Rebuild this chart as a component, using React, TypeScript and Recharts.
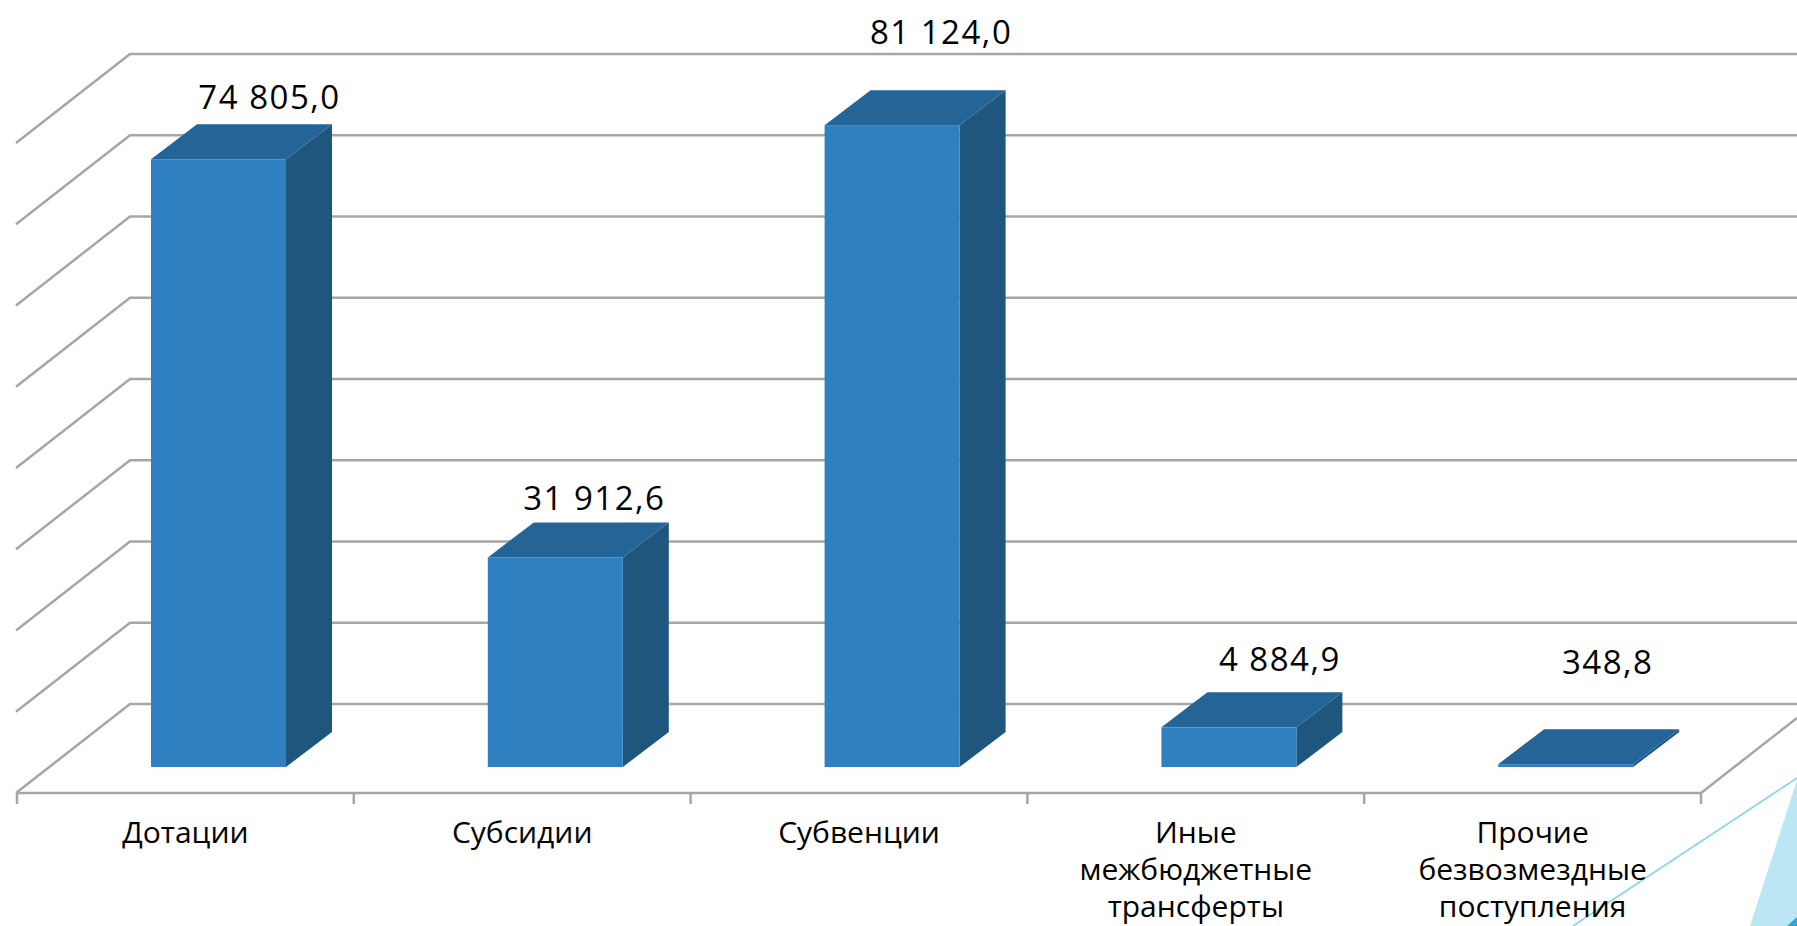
import { Bar, BarChart, LabelList, XAxis, YAxis } from "recharts"

const categories = [
  ["Дотации"],
  ["Субсидии"],
  ["Субвенции"],
  ["Иные", "межбюджетные", "трансферты"],
  ["Прочие", "безвозмездные", "поступления"],
]
// bar heights as drawn in the picture (they do not quite follow the printed labels)
const drawnValues = [74805, 25800, 79000, 4884.9, 348.8]
const valueLabels = ["74 805,0", "31 912,6", "81 124,0", "4 884,9", "348,8"]
const yTicks = [0, 10000, 20000, 30000, 40000, 50000, 60000, 70000, 80000]

const data = categories.map((lines, i) => ({
  name: lines.join(" "),
  value: drawnValues[i],
  label: valueLabels[i],
}))

// hand placed labels in the original slide
const LABEL_NUDGE = [
  [84, -62],
  [72, -59],
  [82, -93],
  [84, -68],
  [75, -102],
]

const WIDTH = 1797
const HEIGHT = 926
const DEPTH_X = 46
const DEPTH_Y = 35
const BAR_SHIFT = 33
const GRID = "#a6a6a6"
const FONT = "'Open Sans', sans-serif"
const MARGIN = { top: 117, right: 96, bottom: 0, left: 16 }
const Y_DOMAIN = [-3200, 80000]
const LAYER = { position: "absolute", left: 0, top: 0 } as const

function Bar3D({ x, y, width, height }: any) {
  const left = x + BAR_SHIFT
  const right = left + width
  const bottom = y + height
  return (
    <g>
      <polygon
        points={`${right},${y} ${right + DEPTH_X},${y - DEPTH_Y} ${right + DEPTH_X},${bottom - DEPTH_Y} ${right},${bottom}`}
        fill="#1e567d"
      />
      <polygon
        points={`${left},${y} ${left + DEPTH_X},${y - DEPTH_Y} ${right + DEPTH_X},${y - DEPTH_Y} ${right},${y}`}
        fill="#246496"
      />
      <rect x={left} y={y} width={width} height={height} fill="#2e80c1" />
    </g>
  )
}

// the y axis ticks draw the back wall: side diagonal plus the line running to the right
function WallTick({ y, payload }: any) {
  const backY = y - 63
  const frontY = y + 26
  return (
    <g stroke={GRID} strokeWidth={2.5} fill="none">
      <polyline points={`16,${frontY} 130,${backY} ${WIDTH},${backY}`} />
      {payload.value === 0 && <line x1={1701} y1={frontY} x2={WIDTH} y2={frontY - 75} />}
    </g>
  )
}

function CategoryTick({ x, y, index }: any) {
  const half = 168.4
  return (
    <g>
      <line x1={x - half} y1={y - 8} x2={x - half} y2={y + 3} stroke={GRID} strokeWidth={2.5} />
      {index === categories.length - 1 && (
        <line x1={x + half} y1={y - 8} x2={x + half} y2={y + 3} stroke={GRID} strokeWidth={2.5} />
      )}
      <text textAnchor="middle" fontFamily={FONT} fontSize={30} fill="#000">
        {categories[index].map((line, i) => (
          <tspan key={line} x={x} y={y + 42 + i * 37}>
            {line}
          </tspan>
        ))}
      </text>
    </g>
  )
}

function ValueLabel({ x, y, width, value, index }: any) {
  const [dx, dy] = LABEL_NUDGE[index]
  return (
    <text
      x={x + width / 2 + dx}
      y={y + dy + 12}
      textAnchor="middle"
      fontFamily={FONT}
      fontSize={33}
      letterSpacing={1.5}
      fill="#000"
    >
      {value}
    </text>
  )
}

export default function App() {
  return (
    <div style={{ ...LAYER, width: WIDTH, height: HEIGHT, overflow: "hidden", background: "#fff" }}>
      {/* slide decoration in the bottom right corner */}
      <svg width={WIDTH} height={HEIGHT} style={LAYER}>
        <polygon points="1797,780 1750,926 1797,926" fill="#bde6f4" />
        <polygon points="1787,926 1797,917 1797,926" fill="#2aa7d6" />
        <line x1={1573} y1={926} x2={1797} y2={778} stroke="#7fd6e6" strokeWidth={1.5} />
      </svg>

      {/* axis ticks paint over bars, so walls and axes get their own chart underneath */}
      <div style={LAYER}>
        <BarChart width={WIDTH} height={HEIGHT} data={data} margin={MARGIN}>
          <XAxis
            dataKey="name"
            height={133}
            interval={0}
            tickLine={false}
            axisLine={{ stroke: GRID, strokeWidth: 2.5 }}
            tick={CategoryTick}
          />
          <YAxis width={1} domain={Y_DOMAIN} ticks={yTicks} interval={0} tick={WallTick} axisLine={false} tickLine={false} />
          <Bar dataKey="value" barSize={135} fill="none" isAnimationActive={false} />
        </BarChart>
      </div>

      <div style={LAYER}>
        <BarChart width={WIDTH} height={HEIGHT} data={data} margin={MARGIN}>
          <XAxis dataKey="name" height={133} tick={false} tickLine={false} axisLine={false} />
          <YAxis width={1} domain={Y_DOMAIN} ticks={yTicks} tick={false} axisLine={false} tickLine={false} />
          <Bar dataKey="value" barSize={135} shape={Bar3D} isAnimationActive={false}>
            <LabelList dataKey="label" content={ValueLabel} />
          </Bar>
        </BarChart>
      </div>
    </div>
  )
}
